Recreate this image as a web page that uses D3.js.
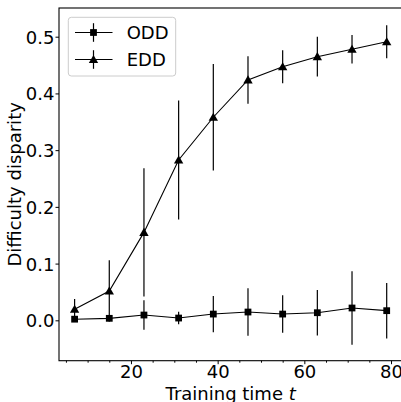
<!DOCTYPE html>
<html>
<head>
<meta charset="utf-8">
<script src="https://cdn.jsdelivr.net/npm/d3@7"></script>
<style>
  html, body { margin: 0; padding: 0; background: #fff; }
  svg { display: block; }
  text { font-family: "DejaVu Sans", sans-serif; fill: #000; }
</style>
</head>
<body>
<script>
// Training checkpoints and the two disparity measures (mean ± error)
const times   = [7, 15, 23, 31, 39, 47, 55, 63, 71, 79];
const odd     = [0.002, 0.0035, 0.0093, 0.004, 0.011, 0.0146, 0.011, 0.0134, 0.0217, 0.017];
const oddErr  = [0.003, 0.005, 0.026, 0.011, 0.032, 0.042, 0.033, 0.040, 0.065, 0.049];
const edd     = [0.0194, 0.0517, 0.155, 0.2826, 0.358, 0.4237, 0.447, 0.4648, 0.4778, 0.491];
const eddErr  = [0.018, 0.054, 0.113, 0.105, 0.094, 0.042, 0.029, 0.035, 0.025, 0.029];
const seriesNames = ["ODD", "EDD"];
const xTicks = [20, 40, 60, 80];
const xMinorTicks = [5, 10, 15, 25, 30, 35, 45, 50, 55, 65, 70, 75];
const yTicks = [0.0, 0.1, 0.2, 0.3, 0.4, 0.5];

const W = 401, H = 402;
const plot = { left: 59, top: 8, right: 402.3, bottom: 360.7 };
const FS = 18;

const svg = d3.select("body").append("svg").attr("width", W).attr("height", H);

const x = d3.scaleLinear().domain([3.4, 82.6]).range([plot.left, plot.right]);
const y = d3.scaleLinear().domain([-0.0712, 0.5506]).range([plot.bottom, plot.top]);

// Axes
const xAxis = svg.append("g").attr("transform", `translate(0,${plot.bottom})`)
  .call(d3.axisBottom(x).tickValues(xTicks).tickFormat(d3.format("d")).tickSize(3.5).tickPadding(4));
xAxis.selectAll("text").attr("font-size", FS).attr("dy", null).attr("y", 17.6);
const xMinor = svg.append("g").attr("transform", `translate(0,${plot.bottom})`)
  .call(d3.axisBottom(x).tickValues(xMinorTicks).tickFormat("").tickSize(2));

const yAxis = svg.append("g").attr("transform", `translate(${plot.left},0)`)
  .call(d3.axisLeft(y).tickValues(yTicks).tickFormat(d3.format(".1f")).tickSize(3.5).tickPadding(1.5));
yAxis.selectAll("text").attr("font-size", FS).attr("dy", "0.36em").attr("x", -4.6);

[xAxis, xMinor, yAxis].forEach(g => {
  g.select(".domain").remove();
  g.selectAll("line").attr("stroke", "#000").attr("stroke-width", 1);
});

// Spines
svg.append("rect")
  .attr("x", plot.left).attr("y", plot.top)
  .attr("width", plot.right - plot.left).attr("height", plot.bottom - plot.top)
  .attr("fill", "none").attr("stroke", "#000").attr("stroke-width", 1.1);

// Axis labels
const xl = svg.append("text").attr("x", (plot.left + plot.right) / 2).attr("y", 399.5)
  .attr("text-anchor", "middle").attr("font-size", FS);
xl.append("tspan").text("Training time ");
xl.append("tspan").attr("font-style", "oblique").text("t");

svg.append("text")
  .attr("transform", `translate(21,${(plot.top + plot.bottom) / 2}) rotate(-90)`)
  .attr("text-anchor", "middle").attr("font-size", FS)
  .text("Difficulty disparity");

// Series
const sq = d3.symbol().type(d3.symbolSquare).size(46);
const tri = d3.symbol().type(d3.symbolTriangle).size(38);
const series = [
  { name: seriesNames[0], vals: odd, errs: oddErr, sym: sq, triOffset: 0 },
  { name: seriesNames[1], vals: edd, errs: eddErr, sym: tri, triOffset: 0.8 }
];

const line = d3.line().x(d => x(d[0])).y(d => y(d[1]));
const g = svg.append("g");

series.forEach(s => {
  const pts = times.map((t, i) => [t, s.vals[i], s.errs[i]]);
  g.append("g").selectAll("line").data(pts).join("line")
    .attr("x1", d => x(d[0])).attr("x2", d => x(d[0]))
    .attr("y1", d => y(d[1] - d[2])).attr("y2", d => y(d[1] + d[2]))
    .attr("stroke", "#000").attr("stroke-width", 1.2);
  g.append("path").datum(pts).attr("d", line)
    .attr("fill", "none").attr("stroke", "#000").attr("stroke-width", 1.1);
  g.append("g").selectAll("path").data(pts).join("path")
    .attr("d", s.sym)
    .attr("transform", d => `translate(${x(d[0])},${y(d[1]) + s.triOffset})`)
    .attr("fill", "#000");
});

// Legend
const lg = svg.append("g");
lg.append("rect").attr("x", 68.3).attr("y", 17.3).attr("width", 107.4).attr("height", 58.7)
  .attr("rx", 3).attr("fill", "#fff").attr("fill-opacity", 0.8)
  .attr("stroke", "#cccccc").attr("stroke-width", 1);
series.forEach((s, i) => {
  const cy = 32.5 + i * 27;
  lg.append("line").attr("x1", 75).attr("x2", 112.5).attr("y1", cy).attr("y2", cy)
    .attr("stroke", "#000").attr("stroke-width", 1.1);
  lg.append("line").attr("x1", 93.5).attr("x2", 93.5).attr("y1", cy - 9.3).attr("y2", cy + 9.3)
    .attr("stroke", "#000").attr("stroke-width", 1.2);
  lg.append("path").attr("d", s.sym).attr("transform", `translate(93.5,${cy + s.triOffset})`).attr("fill", "#000");
  lg.append("text").attr("x", 126.7).attr("y", cy).attr("dy", "0.36em")
    .attr("font-size", FS).text(s.name);
});
</script>
</body>
</html>
